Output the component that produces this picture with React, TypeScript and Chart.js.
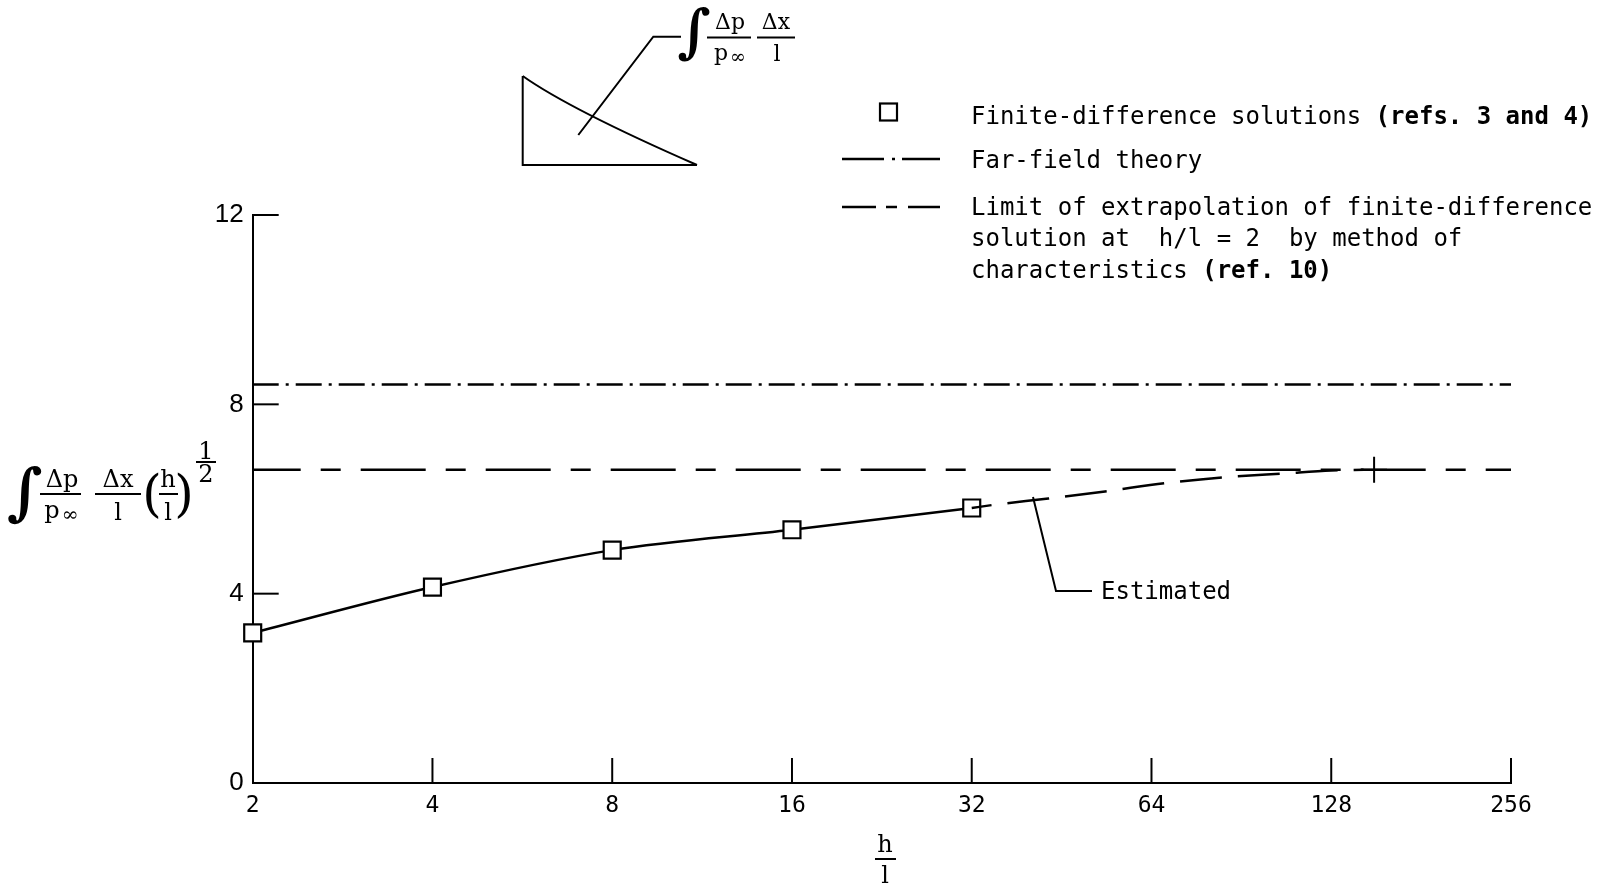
import React, { useEffect, useRef } from "react";
import { Chart, registerables } from "chart.js";

Chart.register(...registerables);

// ---- data ----
const xTickValues = [2, 4, 8, 16, 32, 64, 128, 256];
const yTickValues = [0, 4, 8, 12];
const fdH = [2, 4, 8, 16, 32];
const fdValues = [3.17, 4.14, 4.92, 5.35, 5.81];
const estH = [32, 35, 43, 53.5, 68, 85, 107, 128, 145];
const estValues = [5.81, 5.88, 6.01, 6.16, 6.34, 6.46, 6.54, 6.6, 6.62];
const farFieldH = [2, 256];
const farFieldValues = [8.42, 8.42];
const limitH = [2, 256];
const limitValues = [6.62, 6.62];
const crossH = [151];
const crossValues = [6.62];

const legendFD = ["Finite-difference solutions ", "(refs. 3 and 4)"];
const legendFar = "Far-field theory";
const legendLimit = [
  "Limit of extrapolation of finite-difference",
  "solution at  h/l = 2  by method of",
  "characteristics ",
  "(ref. 10)",
];
const estimatedLabel = "Estimated";

const MONO = '"DejaVu Sans Mono", monospace';
const SERIF = '"DejaVu Serif", serif';

const pts = (xs: number[], ys: number[]) => xs.map((x, i) => ({ x, y: ys[i] }));

function seg(ctx: CanvasRenderingContext2D, x1: number, y1: number, x2: number, y2: number) {
  ctx.beginPath();
  ctx.moveTo(x1, y1);
  ctx.lineTo(x2, y2);
  ctx.stroke();
}
function txt(ctx: CanvasRenderingContext2D, s: string, x: number, y: number, font: string, align: CanvasTextAlign = "left") {
  ctx.font = font;
  ctx.textAlign = align;
  ctx.textBaseline = "middle";
  ctx.fillText(s, x, y);
}

const decor = {
  id: "decor",
  afterDraw(chart: any) {
    const ctx: CanvasRenderingContext2D = chart.ctx;
    const { left, bottom } = chart.chartArea;
    const xs = chart.scales.x;
    const ys = chart.scales.y;
    ctx.save();
    ctx.strokeStyle = "#000";
    ctx.fillStyle = "#000";
    ctx.lineCap = "butt";

    // inward ticks
    ctx.lineWidth = 2;
    yTickValues.forEach((v) => {
      if (v === yTickValues[0]) return;
      const y = ys.getPixelForValue(v);
      seg(ctx, left, y, left + 26, y);
    });
    xTickValues.forEach((v) => {
      if (v === xTickValues[0]) return;
      const x = xs.getPixelForValue(v);
      seg(ctx, x, bottom, x, bottom - 25);
    });

    // ---- legend ----
    ctx.lineWidth = 2.2;
    ctx.fillStyle = "#fff";
    ctx.fillRect(880, 103.5, 17, 17);
    ctx.strokeRect(880, 103.5, 17, 17);
    ctx.fillStyle = "#000";
    const f1 = `24px ${MONO}`;
    const fb = `bold 24px ${MONO}`;
    txt(ctx, legendFD[0], 971, 117.5, f1);
    ctx.font = f1;
    let w = ctx.measureText(legendFD[0]).width;
    txt(ctx, legendFD[1], 971 + w, 117.5, fb);

    ctx.lineWidth = 2.5;
    seg(ctx, 842, 159, 884, 159);
    seg(ctx, 892, 159, 895, 159);
    seg(ctx, 902, 159, 940, 159);
    txt(ctx, legendFar, 971, 162, f1);

    seg(ctx, 842, 207, 876, 207);
    seg(ctx, 886, 207, 897, 207);
    seg(ctx, 908, 207, 940, 207);
    txt(ctx, legendLimit[0], 971, 209, f1);
    txt(ctx, legendLimit[1], 971, 240, f1);
    txt(ctx, legendLimit[2], 971, 271.5, f1);
    ctx.font = f1;
    w = ctx.measureText(legendLimit[2]).width;
    txt(ctx, legendLimit[3], 971 + w, 271.5, fb);

    // ---- inset sketch ----
    ctx.lineWidth = 2;
    ctx.beginPath();
    ctx.moveTo(522.7, 76);
    ctx.lineTo(522.7, 165);
    ctx.lineTo(697, 165);
    ctx.stroke();
    ctx.beginPath();
    ctx.moveTo(522.7, 76);
    ctx.quadraticCurveTo(570, 109.5, 697, 165);
    ctx.stroke();
    ctx.beginPath();
    ctx.moveTo(578.3, 135);
    ctx.lineTo(653.3, 36.7);
    ctx.lineTo(681, 36.7);
    ctx.stroke();

    const fs = `22px ${SERIF}`;
    txt(ctx, "∫", 694, 36, `italic bold 58px ${SERIF}`, "center");
    txt(ctx, "Δp", 730, 23, fs, "center");
    seg(ctx, 707, 37.5, 751, 37.5);
    txt(ctx, "p", 721, 54, fs, "center");
    txt(ctx, "∞", 738, 58, `19px ${SERIF}`, "center");
    txt(ctx, "Δx", 776, 23, fs, "center");
    seg(ctx, 757, 37.5, 795, 37.5);
    txt(ctx, "l", 777, 55, fs, "center");

    // ---- y axis title ----
    const fy = `24px ${SERIF}`;
    txt(ctx, "∫", 25, 497, `italic bold 62px ${SERIF}`, "center");
    txt(ctx, "Δp", 62, 481, fy, "center");
    seg(ctx, 40, 494, 81, 494);
    txt(ctx, "p", 52, 512, fy, "center");
    txt(ctx, "∞", 70, 516, `20px ${SERIF}`, "center");
    txt(ctx, "Δx", 118, 481, fy, "center");
    seg(ctx, 95, 494, 141, 494);
    txt(ctx, "l", 118, 514, fy, "center");
    txt(ctx, "(", 152, 498, `50px ${SERIF}`, "center");
    txt(ctx, "h", 168, 481, fy, "center");
    seg(ctx, 159, 494, 178, 494);
    txt(ctx, "l", 168, 514, fy, "center");
    txt(ctx, ")", 184, 498, `50px ${SERIF}`, "center");
    txt(ctx, "1", 206, 453, fy, "center");
    seg(ctx, 196, 462, 216, 462);
    txt(ctx, "2", 206, 476, fy, "center");

    // ---- x axis title ----
    txt(ctx, "h", 885, 846, fy, "center");
    seg(ctx, 875, 859, 896, 859);
    txt(ctx, "l", 885, 877, fy, "center");

    // ---- Estimated label ----
    ctx.lineWidth = 2;
    ctx.beginPath();
    ctx.moveTo(1033, 497);
    ctx.lineTo(1056, 591);
    ctx.lineTo(1092, 591);
    ctx.stroke();
    txt(ctx, estimatedLabel, 1101, 593, f1);

    ctx.restore();
  },
};

export default function App() {
  const ref = useRef<HTMLCanvasElement | null>(null);
  useEffect(() => {
    if (!ref.current) return;
    const chart = new Chart(ref.current, {
      type: "line",
      data: {
        datasets: [
          {
            data: pts(farFieldH, farFieldValues),
            borderColor: "#000",
            borderWidth: 2.5,
            borderDash: [26, 7, 3, 7],
            pointRadius: 0,
          },
          {
            data: pts(limitH, limitValues),
            borderColor: "#000",
            borderWidth: 2.5,
            borderDash: [65, 20, 20, 20],
            borderDashOffset: 17,
            pointRadius: 0,
          },
          {
            data: pts(estH, estValues),
            borderColor: "#000",
            borderWidth: 2.5,
            borderDash: [42, 16],
            borderDashOffset: 22,
            cubicInterpolationMode: "monotone",
            pointRadius: 0,
          },
          {
            data: pts(fdH, fdValues),
            borderColor: "#000",
            borderWidth: 2.5,
            cubicInterpolationMode: "monotone",
            pointStyle: "rect",
            pointRadius: 12,
            pointBackgroundColor: "#fff",
            pointBorderColor: "#000",
            pointBorderWidth: 2.2,
            clip: false,
          },
          {
            data: pts(crossH, crossValues),
            showLine: false,
            pointStyle: "cross",
            pointRadius: 13,
            pointBorderColor: "#000",
            pointBorderWidth: 2,
          },
        ],
      } as any,
      options: {
        responsive: false,
        animation: false,
        devicePixelRatio: 1,
        layout: { padding: { top: 215, right: 106, left: 0, bottom: 0 } },
        plugins: { legend: { display: false }, tooltip: { enabled: false }, title: { display: false } },
        scales: {
          x: {
            type: "logarithmic",
            min: 2,
            max: 256,
            afterBuildTicks: (s: any) => {
              s.ticks = xTickValues.map((v) => ({ value: v }));
            },
            afterFit: (s: any) => {
              s.height = 108;
            },
            ticks: {
              autoSkip: false,
              maxRotation: 0,
              padding: 9,
              color: "#000",
              font: { family: "DejaVu Sans Mono", size: 23 },
              callback: (v: any) => String(v),
            },
            grid: { display: true, drawOnChartArea: false, drawTicks: false, color: "#000" },
            border: { display: true, color: "#000", width: 2 },
          },
          y: {
            type: "linear",
            min: 0,
            max: 12,
            afterBuildTicks: (s: any) => {
              s.ticks = yTickValues.map((v) => ({ value: v }));
            },
            afterFit: (s: any) => {
              s.width = 252.7;
            },
            ticks: {
              padding: 9,
              color: "#000",
              font: { family: "Liberation Sans", size: 26 },
              callback: (v: any) => String(v),
            },
            grid: { display: true, drawOnChartArea: false, drawTicks: false, color: "#000" },
            border: { display: true, color: "#000", width: 2 },
          },
        },
      } as any,
      plugins: [decor],
    });
    return () => chart.destroy();
  }, []);
  return (
    <div style={{ position: "absolute", left: 0, top: 0, width: 1617, height: 891, background: "#fff" }}>
      <canvas ref={ref} width={1617} height={891} style={{ display: "block" }} />
    </div>
  );
}
